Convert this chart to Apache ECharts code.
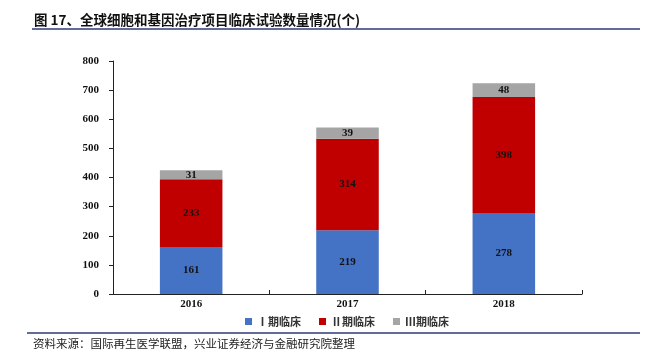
<!DOCTYPE html>
<html>
<head>
<meta charset="utf-8">
<script src="https://cdn.jsdelivr.net/npm/echarts@6/dist/echarts.min.js"></script>
<style>
  html, body { margin: 0; padding: 0; background: #fff; }
  #chart { width: 654px; height: 352px; }
</style>
</head>
<body>
<div id="chart"></div>
<script>
// data
const years = ['2016', '2017', '2018'];
const phase1 = [161, 219, 278];
const phase2 = [233, 314, 398];
const phase3 = [31, 39, 48];
const seriesNames = ['Ⅰ期临床', 'Ⅱ期临床', 'Ⅲ期临床'];

const numFont = '"Liberation Serif", "Times New Roman", serif';
const cjkFont = '"Noto Sans CJK SC", sans-serif';

const myChart = echarts.init(document.getElementById('chart'));

function barSeries(name, data) {
    return {
        name: name,
        type: 'bar',
        stack: 'Total',
        barWidth: '40%',
        label: {
            show: true,
            position: 'inside',
            color: '#111',
            fontFamily: numFont,
            fontWeight: 'bold',
            fontSize: 11
        },
        data: data
    };
}

const option = {
    animation: false,
    color: ['#4472C4', '#C00000', '#A5A5A5'],
    title: {
        text: '图 17、全球细胞和基因治疗项目临床试验数量情况(个)',
        left: 29,
        top: 8,
        textStyle: {
            fontFamily: cjkFont,
            fontWeight: 'bold',
            fontSize: 13.5,
            color: '#111'
        }
    },
    graphic: [
        {
            type: 'line',
            shape: { x1: 32, y1: 29, x2: 640, y2: 29 },
            style: { stroke: '#2E3A78', lineWidth: 1.5 }
        },
        {
            type: 'line',
            shape: { x1: 27, y1: 333, x2: 640, y2: 333 },
            style: { stroke: '#2E3A78', lineWidth: 1.5 }
        },
        {
            type: 'text',
            left: 33,
            top: 338,
            style: {
                text: '资料来源：国际再生医学联盟，兴业证券经济与金融研究院整理',
                fontFamily: cjkFont,
                fontSize: 11.5,
                fill: '#222'
            }
        }
    ],
    legend: {
        data: seriesNames,
        top: 311,
        left: 240,
        itemWidth: 7,
        itemHeight: 7,
        itemGap: 18,
        icon: 'rect',
        textStyle: {
            fontFamily: cjkFont,
            fontWeight: 'bold',
            fontSize: 11,
            color: '#333'
        }
    },
    grid: {
        left: 113,
        right: 72,
        top: 61,
        bottom: 58
    },
    xAxis: {
        type: 'category',
        data: years,
        axisLine: { lineStyle: { color: '#222', width: 1 } },
        axisTick: { show: true, inside: true, length: 4, lineStyle: { color: '#222' } },
        axisLabel: {
            fontFamily: numFont,
            fontWeight: 'bold',
            fontSize: 11,
            color: '#111',
            margin: 5
        }
    },
    yAxis: {
        type: 'value',
        min: 0,
        max: 800,
        interval: 100,
        splitLine: { show: false },
        axisLine: { show: true, lineStyle: { color: '#222', width: 1 } },
        axisTick: { show: true, length: 4, lineStyle: { color: '#222' } },
        axisLabel: {
            fontFamily: numFont,
            fontWeight: 'bold',
            fontSize: 11,
            color: '#111',
            margin: 14
        }
    },
    series: [
        barSeries(seriesNames[0], phase1),
        barSeries(seriesNames[1], phase2),
        barSeries(seriesNames[2], phase3)
    ]
};

myChart.setOption(option);
</script>
</body>
</html>
